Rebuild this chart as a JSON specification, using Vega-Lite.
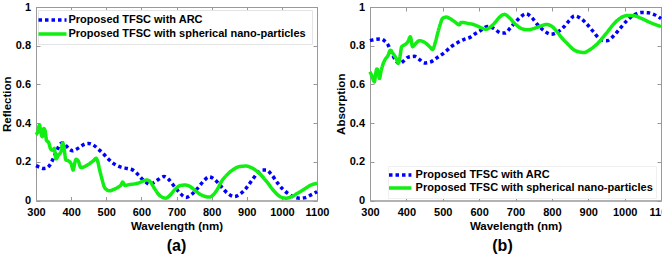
{
  "$schema": "https://vega.github.io/schema/vega-lite/v6.json",
  "background": "white",
  "padding": {"left": 0, "top": 0, "right": 0, "bottom": 0},
  "config": {
    "font": "Liberation Sans",
    "view": {"stroke": "#999", "strokeWidth": 1},
    "axis": {"labelFont": "Liberation Sans", "labelFontWeight": "bold", "labelFontSize": 11, "labelColor": "#000", "titleFont": "Liberation Sans", "titleFontWeight": "bold", "titleFontSize": 11.5, "titleColor": "#000", "domainColor": "#999", "tickColor": "#999", "tickSize": -4, "labelPadding": 9.5, "grid": false, "labelFlush": false, "labelOverlap": false},
    "title": {"font": "Liberation Sans", "fontSize": 16, "fontWeight": "bold", "color": "#000", "orient": "bottom", "anchor": "middle", "offset": 6}
  },
  "resolve": {"scale": {"color": "independent", "strokeDash": "independent"}, "legend": {"color": "independent", "strokeDash": "independent"}},
  "datasets": {
    "refl": [
      {"wavelength": 300, "value": 0.18, "series": "Proposed TFSC with ARC"},
      {"wavelength": 310, "value": 0.172, "series": "Proposed TFSC with ARC"},
      {"wavelength": 320, "value": 0.166, "series": "Proposed TFSC with ARC"},
      {"wavelength": 330, "value": 0.168, "series": "Proposed TFSC with ARC"},
      {"wavelength": 340, "value": 0.185, "series": "Proposed TFSC with ARC"},
      {"wavelength": 350, "value": 0.22, "series": "Proposed TFSC with ARC"},
      {"wavelength": 360, "value": 0.262, "series": "Proposed TFSC with ARC"},
      {"wavelength": 370, "value": 0.293, "series": "Proposed TFSC with ARC"},
      {"wavelength": 378, "value": 0.298, "series": "Proposed TFSC with ARC"},
      {"wavelength": 385, "value": 0.285, "series": "Proposed TFSC with ARC"},
      {"wavelength": 395, "value": 0.265, "series": "Proposed TFSC with ARC"},
      {"wavelength": 405, "value": 0.257, "series": "Proposed TFSC with ARC"},
      {"wavelength": 415, "value": 0.265, "series": "Proposed TFSC with ARC"},
      {"wavelength": 428, "value": 0.28, "series": "Proposed TFSC with ARC"},
      {"wavelength": 440, "value": 0.293, "series": "Proposed TFSC with ARC"},
      {"wavelength": 450, "value": 0.295, "series": "Proposed TFSC with ARC"},
      {"wavelength": 462, "value": 0.288, "series": "Proposed TFSC with ARC"},
      {"wavelength": 476, "value": 0.268, "series": "Proposed TFSC with ARC"},
      {"wavelength": 490, "value": 0.245, "series": "Proposed TFSC with ARC"},
      {"wavelength": 504, "value": 0.218, "series": "Proposed TFSC with ARC"},
      {"wavelength": 520, "value": 0.192, "series": "Proposed TFSC with ARC"},
      {"wavelength": 542, "value": 0.172, "series": "Proposed TFSC with ARC"},
      {"wavelength": 560, "value": 0.165, "series": "Proposed TFSC with ARC"},
      {"wavelength": 575, "value": 0.158, "series": "Proposed TFSC with ARC"},
      {"wavelength": 590, "value": 0.135, "series": "Proposed TFSC with ARC"},
      {"wavelength": 600, "value": 0.115, "series": "Proposed TFSC with ARC"},
      {"wavelength": 612, "value": 0.096, "series": "Proposed TFSC with ARC"},
      {"wavelength": 623, "value": 0.084, "series": "Proposed TFSC with ARC"},
      {"wavelength": 635, "value": 0.092, "series": "Proposed TFSC with ARC"},
      {"wavelength": 648, "value": 0.108, "series": "Proposed TFSC with ARC"},
      {"wavelength": 665, "value": 0.124, "series": "Proposed TFSC with ARC"},
      {"wavelength": 680, "value": 0.105, "series": "Proposed TFSC with ARC"},
      {"wavelength": 694, "value": 0.072, "series": "Proposed TFSC with ARC"},
      {"wavelength": 710, "value": 0.038, "series": "Proposed TFSC with ARC"},
      {"wavelength": 727, "value": 0.016, "series": "Proposed TFSC with ARC"},
      {"wavelength": 742, "value": 0.03, "series": "Proposed TFSC with ARC"},
      {"wavelength": 760, "value": 0.063, "series": "Proposed TFSC with ARC"},
      {"wavelength": 777, "value": 0.1, "series": "Proposed TFSC with ARC"},
      {"wavelength": 793, "value": 0.122, "series": "Proposed TFSC with ARC"},
      {"wavelength": 808, "value": 0.11, "series": "Proposed TFSC with ARC"},
      {"wavelength": 827, "value": 0.072, "series": "Proposed TFSC with ARC"},
      {"wavelength": 845, "value": 0.038, "series": "Proposed TFSC with ARC"},
      {"wavelength": 865, "value": 0.02, "series": "Proposed TFSC with ARC"},
      {"wavelength": 880, "value": 0.032, "series": "Proposed TFSC with ARC"},
      {"wavelength": 898, "value": 0.063, "series": "Proposed TFSC with ARC"},
      {"wavelength": 915, "value": 0.105, "series": "Proposed TFSC with ARC"},
      {"wavelength": 930, "value": 0.14, "series": "Proposed TFSC with ARC"},
      {"wavelength": 945, "value": 0.158, "series": "Proposed TFSC with ARC"},
      {"wavelength": 955, "value": 0.158, "series": "Proposed TFSC with ARC"},
      {"wavelength": 970, "value": 0.135, "series": "Proposed TFSC with ARC"},
      {"wavelength": 988, "value": 0.09, "series": "Proposed TFSC with ARC"},
      {"wavelength": 1002, "value": 0.06, "series": "Proposed TFSC with ARC"},
      {"wavelength": 1016, "value": 0.038, "series": "Proposed TFSC with ARC"},
      {"wavelength": 1032, "value": 0.02, "series": "Proposed TFSC with ARC"},
      {"wavelength": 1050, "value": 0.012, "series": "Proposed TFSC with ARC"},
      {"wavelength": 1067, "value": 0.015, "series": "Proposed TFSC with ARC"},
      {"wavelength": 1083, "value": 0.029, "series": "Proposed TFSC with ARC"},
      {"wavelength": 1100, "value": 0.046, "series": "Proposed TFSC with ARC"},
      {"wavelength": 300, "value": 0.34, "series": "Proposed TFSC with  spherical nano-particles"},
      {"wavelength": 305, "value": 0.355, "series": "Proposed TFSC with  spherical nano-particles"},
      {"wavelength": 310, "value": 0.39, "series": "Proposed TFSC with  spherical nano-particles"},
      {"wavelength": 314, "value": 0.35, "series": "Proposed TFSC with  spherical nano-particles"},
      {"wavelength": 318, "value": 0.33, "series": "Proposed TFSC with  spherical nano-particles"},
      {"wavelength": 322, "value": 0.372, "series": "Proposed TFSC with  spherical nano-particles"},
      {"wavelength": 326, "value": 0.36, "series": "Proposed TFSC with  spherical nano-particles"},
      {"wavelength": 330, "value": 0.31, "series": "Proposed TFSC with  spherical nano-particles"},
      {"wavelength": 336, "value": 0.3, "series": "Proposed TFSC with  spherical nano-particles"},
      {"wavelength": 342, "value": 0.265, "series": "Proposed TFSC with  spherical nano-particles"},
      {"wavelength": 348, "value": 0.26, "series": "Proposed TFSC with  spherical nano-particles"},
      {"wavelength": 352, "value": 0.27, "series": "Proposed TFSC with  spherical nano-particles"},
      {"wavelength": 357, "value": 0.215, "series": "Proposed TFSC with  spherical nano-particles"},
      {"wavelength": 364, "value": 0.235, "series": "Proposed TFSC with  spherical nano-particles"},
      {"wavelength": 371, "value": 0.252, "series": "Proposed TFSC with  spherical nano-particles"},
      {"wavelength": 376, "value": 0.298, "series": "Proposed TFSC with  spherical nano-particles"},
      {"wavelength": 380, "value": 0.27, "series": "Proposed TFSC with  spherical nano-particles"},
      {"wavelength": 385, "value": 0.21, "series": "Proposed TFSC with  spherical nano-particles"},
      {"wavelength": 392, "value": 0.205, "series": "Proposed TFSC with  spherical nano-particles"},
      {"wavelength": 400, "value": 0.19, "series": "Proposed TFSC with  spherical nano-particles"},
      {"wavelength": 406, "value": 0.157, "series": "Proposed TFSC with  spherical nano-particles"},
      {"wavelength": 410, "value": 0.19, "series": "Proposed TFSC with  spherical nano-particles"},
      {"wavelength": 414, "value": 0.213, "series": "Proposed TFSC with  spherical nano-particles"},
      {"wavelength": 420, "value": 0.205, "series": "Proposed TFSC with  spherical nano-particles"},
      {"wavelength": 428, "value": 0.17, "series": "Proposed TFSC with  spherical nano-particles"},
      {"wavelength": 438, "value": 0.175, "series": "Proposed TFSC with  spherical nano-particles"},
      {"wavelength": 452, "value": 0.19, "series": "Proposed TFSC with  spherical nano-particles"},
      {"wavelength": 463, "value": 0.205, "series": "Proposed TFSC with  spherical nano-particles"},
      {"wavelength": 471, "value": 0.218, "series": "Proposed TFSC with  spherical nano-particles"},
      {"wavelength": 476, "value": 0.2, "series": "Proposed TFSC with  spherical nano-particles"},
      {"wavelength": 481, "value": 0.16, "series": "Proposed TFSC with  spherical nano-particles"},
      {"wavelength": 488, "value": 0.11, "series": "Proposed TFSC with  spherical nano-particles"},
      {"wavelength": 494, "value": 0.072, "series": "Proposed TFSC with  spherical nano-particles"},
      {"wavelength": 502, "value": 0.055, "series": "Proposed TFSC with  spherical nano-particles"},
      {"wavelength": 509, "value": 0.05, "series": "Proposed TFSC with  spherical nano-particles"},
      {"wavelength": 520, "value": 0.056, "series": "Proposed TFSC with  spherical nano-particles"},
      {"wavelength": 532, "value": 0.067, "series": "Proposed TFSC with  spherical nano-particles"},
      {"wavelength": 542, "value": 0.08, "series": "Proposed TFSC with  spherical nano-particles"},
      {"wavelength": 547, "value": 0.095, "series": "Proposed TFSC with  spherical nano-particles"},
      {"wavelength": 553, "value": 0.078, "series": "Proposed TFSC with  spherical nano-particles"},
      {"wavelength": 565, "value": 0.082, "series": "Proposed TFSC with  spherical nano-particles"},
      {"wavelength": 589, "value": 0.089, "series": "Proposed TFSC with  spherical nano-particles"},
      {"wavelength": 605, "value": 0.1, "series": "Proposed TFSC with  spherical nano-particles"},
      {"wavelength": 616, "value": 0.106, "series": "Proposed TFSC with  spherical nano-particles"},
      {"wavelength": 626, "value": 0.095, "series": "Proposed TFSC with  spherical nano-particles"},
      {"wavelength": 637, "value": 0.063, "series": "Proposed TFSC with  spherical nano-particles"},
      {"wavelength": 650, "value": 0.03, "series": "Proposed TFSC with  spherical nano-particles"},
      {"wavelength": 662, "value": 0.015, "series": "Proposed TFSC with  spherical nano-particles"},
      {"wavelength": 670, "value": 0.012, "series": "Proposed TFSC with  spherical nano-particles"},
      {"wavelength": 680, "value": 0.025, "series": "Proposed TFSC with  spherical nano-particles"},
      {"wavelength": 699, "value": 0.063, "series": "Proposed TFSC with  spherical nano-particles"},
      {"wavelength": 712, "value": 0.078, "series": "Proposed TFSC with  spherical nano-particles"},
      {"wavelength": 725, "value": 0.08, "series": "Proposed TFSC with  spherical nano-particles"},
      {"wavelength": 738, "value": 0.073, "series": "Proposed TFSC with  spherical nano-particles"},
      {"wavelength": 751, "value": 0.055, "series": "Proposed TFSC with  spherical nano-particles"},
      {"wavelength": 765, "value": 0.035, "series": "Proposed TFSC with  spherical nano-particles"},
      {"wavelength": 780, "value": 0.022, "series": "Proposed TFSC with  spherical nano-particles"},
      {"wavelength": 793, "value": 0.018, "series": "Proposed TFSC with  spherical nano-particles"},
      {"wavelength": 805, "value": 0.03, "series": "Proposed TFSC with  spherical nano-particles"},
      {"wavelength": 817, "value": 0.06, "series": "Proposed TFSC with  spherical nano-particles"},
      {"wavelength": 827, "value": 0.095, "series": "Proposed TFSC with  spherical nano-particles"},
      {"wavelength": 845, "value": 0.135, "series": "Proposed TFSC with  spherical nano-particles"},
      {"wavelength": 860, "value": 0.158, "series": "Proposed TFSC with  spherical nano-particles"},
      {"wavelength": 878, "value": 0.175, "series": "Proposed TFSC with  spherical nano-particles"},
      {"wavelength": 898, "value": 0.178, "series": "Proposed TFSC with  spherical nano-particles"},
      {"wavelength": 918, "value": 0.165, "series": "Proposed TFSC with  spherical nano-particles"},
      {"wavelength": 936, "value": 0.14, "series": "Proposed TFSC with  spherical nano-particles"},
      {"wavelength": 958, "value": 0.095, "series": "Proposed TFSC with  spherical nano-particles"},
      {"wavelength": 979, "value": 0.046, "series": "Proposed TFSC with  spherical nano-particles"},
      {"wavelength": 995, "value": 0.02, "series": "Proposed TFSC with  spherical nano-particles"},
      {"wavelength": 1012, "value": 0.012, "series": "Proposed TFSC with  spherical nano-particles"},
      {"wavelength": 1028, "value": 0.02, "series": "Proposed TFSC with  spherical nano-particles"},
      {"wavelength": 1045, "value": 0.038, "series": "Proposed TFSC with  spherical nano-particles"},
      {"wavelength": 1065, "value": 0.06, "series": "Proposed TFSC with  spherical nano-particles"},
      {"wavelength": 1083, "value": 0.08, "series": "Proposed TFSC with  spherical nano-particles"},
      {"wavelength": 1100, "value": 0.089, "series": "Proposed TFSC with  spherical nano-particles"}
    ],
    "abs": [
      {"wavelength": 300, "value": 0.826, "series": "Proposed TFSC with ARC"},
      {"wavelength": 315, "value": 0.833, "series": "Proposed TFSC with ARC"},
      {"wavelength": 330, "value": 0.835, "series": "Proposed TFSC with ARC"},
      {"wavelength": 340, "value": 0.825, "series": "Proposed TFSC with ARC"},
      {"wavelength": 348, "value": 0.81, "series": "Proposed TFSC with ARC"},
      {"wavelength": 358, "value": 0.77, "series": "Proposed TFSC with ARC"},
      {"wavelength": 367, "value": 0.735, "series": "Proposed TFSC with ARC"},
      {"wavelength": 381, "value": 0.708, "series": "Proposed TFSC with ARC"},
      {"wavelength": 392, "value": 0.72, "series": "Proposed TFSC with ARC"},
      {"wavelength": 404, "value": 0.74, "series": "Proposed TFSC with ARC"},
      {"wavelength": 422, "value": 0.745, "series": "Proposed TFSC with ARC"},
      {"wavelength": 435, "value": 0.73, "series": "Proposed TFSC with ARC"},
      {"wavelength": 449, "value": 0.711, "series": "Proposed TFSC with ARC"},
      {"wavelength": 465, "value": 0.715, "series": "Proposed TFSC with ARC"},
      {"wavelength": 486, "value": 0.74, "series": "Proposed TFSC with ARC"},
      {"wavelength": 505, "value": 0.765, "series": "Proposed TFSC with ARC"},
      {"wavelength": 523, "value": 0.795, "series": "Proposed TFSC with ARC"},
      {"wavelength": 540, "value": 0.815, "series": "Proposed TFSC with ARC"},
      {"wavelength": 559, "value": 0.833, "series": "Proposed TFSC with ARC"},
      {"wavelength": 575, "value": 0.843, "series": "Proposed TFSC with ARC"},
      {"wavelength": 587, "value": 0.859, "series": "Proposed TFSC with ARC"},
      {"wavelength": 605, "value": 0.88, "series": "Proposed TFSC with ARC"},
      {"wavelength": 624, "value": 0.899, "series": "Proposed TFSC with ARC"},
      {"wavelength": 640, "value": 0.89, "series": "Proposed TFSC with ARC"},
      {"wavelength": 660, "value": 0.866, "series": "Proposed TFSC with ARC"},
      {"wavelength": 672, "value": 0.866, "series": "Proposed TFSC with ARC"},
      {"wavelength": 685, "value": 0.89, "series": "Proposed TFSC with ARC"},
      {"wavelength": 697, "value": 0.916, "series": "Proposed TFSC with ARC"},
      {"wavelength": 712, "value": 0.945, "series": "Proposed TFSC with ARC"},
      {"wavelength": 729, "value": 0.965, "series": "Proposed TFSC with ARC"},
      {"wavelength": 745, "value": 0.945, "series": "Proposed TFSC with ARC"},
      {"wavelength": 761, "value": 0.908, "series": "Proposed TFSC with ARC"},
      {"wavelength": 780, "value": 0.875, "series": "Proposed TFSC with ARC"},
      {"wavelength": 798, "value": 0.859, "series": "Proposed TFSC with ARC"},
      {"wavelength": 815, "value": 0.87, "series": "Proposed TFSC with ARC"},
      {"wavelength": 834, "value": 0.899, "series": "Proposed TFSC with ARC"},
      {"wavelength": 848, "value": 0.93, "series": "Proposed TFSC with ARC"},
      {"wavelength": 862, "value": 0.954, "series": "Proposed TFSC with ARC"},
      {"wavelength": 880, "value": 0.94, "series": "Proposed TFSC with ARC"},
      {"wavelength": 898, "value": 0.908, "series": "Proposed TFSC with ARC"},
      {"wavelength": 915, "value": 0.87, "series": "Proposed TFSC with ARC"},
      {"wavelength": 935, "value": 0.83, "series": "Proposed TFSC with ARC"},
      {"wavelength": 950, "value": 0.825, "series": "Proposed TFSC with ARC"},
      {"wavelength": 972, "value": 0.855, "series": "Proposed TFSC with ARC"},
      {"wavelength": 990, "value": 0.895, "series": "Proposed TFSC with ARC"},
      {"wavelength": 1008, "value": 0.933, "series": "Proposed TFSC with ARC"},
      {"wavelength": 1025, "value": 0.958, "series": "Proposed TFSC with ARC"},
      {"wavelength": 1045, "value": 0.972, "series": "Proposed TFSC with ARC"},
      {"wavelength": 1065, "value": 0.97, "series": "Proposed TFSC with ARC"},
      {"wavelength": 1082, "value": 0.96, "series": "Proposed TFSC with ARC"},
      {"wavelength": 1100, "value": 0.94, "series": "Proposed TFSC with ARC"},
      {"wavelength": 300, "value": 0.665, "series": "Proposed TFSC with spherical nano-particles"},
      {"wavelength": 306, "value": 0.64, "series": "Proposed TFSC with spherical nano-particles"},
      {"wavelength": 312, "value": 0.613, "series": "Proposed TFSC with spherical nano-particles"},
      {"wavelength": 316, "value": 0.66, "series": "Proposed TFSC with spherical nano-particles"},
      {"wavelength": 319, "value": 0.68, "series": "Proposed TFSC with spherical nano-particles"},
      {"wavelength": 323, "value": 0.66, "series": "Proposed TFSC with spherical nano-particles"},
      {"wavelength": 326, "value": 0.63, "series": "Proposed TFSC with spherical nano-particles"},
      {"wavelength": 330, "value": 0.665, "series": "Proposed TFSC with spherical nano-particles"},
      {"wavelength": 335, "value": 0.7, "series": "Proposed TFSC with spherical nano-particles"},
      {"wavelength": 342, "value": 0.73, "series": "Proposed TFSC with spherical nano-particles"},
      {"wavelength": 349, "value": 0.747, "series": "Proposed TFSC with spherical nano-particles"},
      {"wavelength": 356, "value": 0.777, "series": "Proposed TFSC with spherical nano-particles"},
      {"wavelength": 361, "value": 0.765, "series": "Proposed TFSC with spherical nano-particles"},
      {"wavelength": 367, "value": 0.75, "series": "Proposed TFSC with spherical nano-particles"},
      {"wavelength": 373, "value": 0.73, "series": "Proposed TFSC with spherical nano-particles"},
      {"wavelength": 378, "value": 0.708, "series": "Proposed TFSC with spherical nano-particles"},
      {"wavelength": 383, "value": 0.75, "series": "Proposed TFSC with spherical nano-particles"},
      {"wavelength": 387, "value": 0.795, "series": "Proposed TFSC with spherical nano-particles"},
      {"wavelength": 396, "value": 0.805, "series": "Proposed TFSC with spherical nano-particles"},
      {"wavelength": 404, "value": 0.82, "series": "Proposed TFSC with spherical nano-particles"},
      {"wavelength": 411, "value": 0.846, "series": "Proposed TFSC with spherical nano-particles"},
      {"wavelength": 417, "value": 0.795, "series": "Proposed TFSC with spherical nano-particles"},
      {"wavelength": 425, "value": 0.81, "series": "Proposed TFSC with spherical nano-particles"},
      {"wavelength": 436, "value": 0.826, "series": "Proposed TFSC with spherical nano-particles"},
      {"wavelength": 445, "value": 0.822, "series": "Proposed TFSC with spherical nano-particles"},
      {"wavelength": 454, "value": 0.812, "series": "Proposed TFSC with spherical nano-particles"},
      {"wavelength": 464, "value": 0.795, "series": "Proposed TFSC with spherical nano-particles"},
      {"wavelength": 472, "value": 0.781, "series": "Proposed TFSC with spherical nano-particles"},
      {"wavelength": 480, "value": 0.82, "series": "Proposed TFSC with spherical nano-particles"},
      {"wavelength": 486, "value": 0.864, "series": "Proposed TFSC with spherical nano-particles"},
      {"wavelength": 493, "value": 0.91, "series": "Proposed TFSC with spherical nano-particles"},
      {"wavelength": 500, "value": 0.942, "series": "Proposed TFSC with spherical nano-particles"},
      {"wavelength": 510, "value": 0.948, "series": "Proposed TFSC with spherical nano-particles"},
      {"wavelength": 518, "value": 0.942, "series": "Proposed TFSC with spherical nano-particles"},
      {"wavelength": 532, "value": 0.925, "series": "Proposed TFSC with spherical nano-particles"},
      {"wavelength": 546, "value": 0.908, "series": "Proposed TFSC with spherical nano-particles"},
      {"wavelength": 550, "value": 0.92, "series": "Proposed TFSC with spherical nano-particles"},
      {"wavelength": 555, "value": 0.92, "series": "Proposed TFSC with spherical nano-particles"},
      {"wavelength": 570, "value": 0.915, "series": "Proposed TFSC with spherical nano-particles"},
      {"wavelength": 587, "value": 0.908, "series": "Proposed TFSC with spherical nano-particles"},
      {"wavelength": 603, "value": 0.895, "series": "Proposed TFSC with spherical nano-particles"},
      {"wavelength": 619, "value": 0.885, "series": "Proposed TFSC with spherical nano-particles"},
      {"wavelength": 630, "value": 0.895, "series": "Proposed TFSC with spherical nano-particles"},
      {"wavelength": 642, "value": 0.916, "series": "Proposed TFSC with spherical nano-particles"},
      {"wavelength": 655, "value": 0.945, "series": "Proposed TFSC with spherical nano-particles"},
      {"wavelength": 669, "value": 0.962, "series": "Proposed TFSC with spherical nano-particles"},
      {"wavelength": 683, "value": 0.945, "series": "Proposed TFSC with spherical nano-particles"},
      {"wavelength": 697, "value": 0.916, "series": "Proposed TFSC with spherical nano-particles"},
      {"wavelength": 715, "value": 0.89, "series": "Proposed TFSC with spherical nano-particles"},
      {"wavelength": 734, "value": 0.882, "series": "Proposed TFSC with spherical nano-particles"},
      {"wavelength": 752, "value": 0.89, "series": "Proposed TFSC with spherical nano-particles"},
      {"wavelength": 770, "value": 0.902, "series": "Proposed TFSC with spherical nano-particles"},
      {"wavelength": 785, "value": 0.91, "series": "Proposed TFSC with spherical nano-particles"},
      {"wavelength": 800, "value": 0.9, "series": "Proposed TFSC with spherical nano-particles"},
      {"wavelength": 815, "value": 0.87, "series": "Proposed TFSC with spherical nano-particles"},
      {"wavelength": 825, "value": 0.846, "series": "Proposed TFSC with spherical nano-particles"},
      {"wavelength": 843, "value": 0.81, "series": "Proposed TFSC with spherical nano-particles"},
      {"wavelength": 862, "value": 0.777, "series": "Proposed TFSC with spherical nano-particles"},
      {"wavelength": 875, "value": 0.768, "series": "Proposed TFSC with spherical nano-particles"},
      {"wavelength": 889, "value": 0.765, "series": "Proposed TFSC with spherical nano-particles"},
      {"wavelength": 905, "value": 0.78, "series": "Proposed TFSC with spherical nano-particles"},
      {"wavelength": 926, "value": 0.812, "series": "Proposed TFSC with spherical nano-particles"},
      {"wavelength": 950, "value": 0.865, "series": "Proposed TFSC with spherical nano-particles"},
      {"wavelength": 972, "value": 0.916, "series": "Proposed TFSC with spherical nano-particles"},
      {"wavelength": 990, "value": 0.945, "series": "Proposed TFSC with spherical nano-particles"},
      {"wavelength": 1008, "value": 0.956, "series": "Proposed TFSC with spherical nano-particles"},
      {"wavelength": 1025, "value": 0.955, "series": "Proposed TFSC with spherical nano-particles"},
      {"wavelength": 1045, "value": 0.942, "series": "Proposed TFSC with spherical nano-particles"},
      {"wavelength": 1070, "value": 0.92, "series": "Proposed TFSC with spherical nano-particles"},
      {"wavelength": 1100, "value": 0.899, "series": "Proposed TFSC with spherical nano-particles"}
    ]
  },
  "bounds": "flush",
  "spacing": 53,
  "hconcat": [
    {
      "width": 281,
      "height": 193.5,
      "title": {"text": "(a)"},
      "data": {"name": "refl"},
      "resolve": {"axis": {"x": "independent", "y": "independent"}},
      "layer": [
        {
          "mark": {"type": "line", "strokeWidth": 3.5, "interpolate": "monotone", "strokeCap": "butt"},
          "encoding": {
            "x": {"field": "wavelength", "type": "quantitative", "scale": {"domain": [300, 1100], "nice": false, "zero": false}, "axis": {"values": [300, 400, 500, 600, 700, 800, 900, 1000, 1100], "format": "d", "title": "Wavelength (nm)", "titlePadding": 3}},
            "y": {"field": "value", "type": "quantitative", "scale": {"domain": [0, 1], "nice": false}, "axis": {"values": [0, 0.2, 0.4, 0.6, 0.8, 1], "labelExpr": "format(datum.value, '~g')", "title": "Reflection", "titlePadding": 3}},
            "color": {"field": "series", "type": "nominal", "scale": {"domain": ["Proposed TFSC with ARC", "Proposed TFSC with  spherical nano-particles"], "range": ["#0000ff", "#11ee11"]},
              "legend": {"title": null, "orient": "none", "legendX": 2, "legendY": 3, "symbolType": "M-2.8,0H2.8", "symbolSize": 100, "symbolStrokeWidth": 3.5, "symbolOffset": 4.5, "labelOffset": 9, "labelFont": "Liberation Sans", "labelFontSize": 11, "labelFontWeight": "bold", "labelColor": "#000", "labelLimit": 400, "rowPadding": -1.5, "padding": 3, "strokeColor": "#e4e4e4", "fillColor": "white"}},
            "strokeDash": {"field": "series", "type": "nominal", "scale": {"domain": ["Proposed TFSC with ARC", "Proposed TFSC with  spherical nano-particles"], "range": [[3.5, 3], [1, 0]]},
              "legend": {"title": null, "orient": "none", "legendX": 2, "legendY": 3, "symbolType": "M-2.8,0H2.8", "symbolSize": 100, "symbolStrokeWidth": 3.5, "symbolOffset": 4.5, "labelOffset": 9, "labelFont": "Liberation Sans", "labelFontSize": 11, "labelFontWeight": "bold", "labelColor": "#000", "labelLimit": 400, "rowPadding": -1.5, "padding": 3, "strokeColor": "#e4e4e4", "fillColor": "white"}}
          }
        },
        {
          "mark": {"type": "line", "strokeOpacity": 0, "interpolate": "monotone"},
          "encoding": {
            "x": {"field": "wavelength", "type": "quantitative", "axis": {"orient": "top", "values": [300, 400, 500, 600, 700, 800, 900, 1000, 1100], "labels": false, "title": null}},
            "y": {"field": "value", "type": "quantitative", "axis": {"orient": "right", "values": [0, 0.2, 0.4, 0.6, 0.8, 1], "labels": false, "title": null}},
            "detail": {"field": "series"}
          }
        }
      ]
    },
    {
      "width": 291,
      "height": 193.5,
      "title": {"text": "(b)", "dx": -13},
      "data": {"name": "abs"},
      "resolve": {"axis": {"x": "independent", "y": "independent"}},
      "layer": [
        {
          "mark": {"type": "line", "strokeWidth": 3.5, "interpolate": "monotone", "strokeCap": "butt"},
          "encoding": {
            "x": {"field": "wavelength", "type": "quantitative", "scale": {"domain": [300, 1100], "nice": false, "zero": false}, "axis": {"values": [300, 400, 500, 600, 700, 800, 900, 1000, 1100], "format": "d", "title": "Wavelength (nm)", "titlePadding": 3}},
            "y": {"field": "value", "type": "quantitative", "scale": {"domain": [0, 1], "nice": false}, "axis": {"values": [0, 0.2, 0.4, 0.6, 0.8, 1], "labelExpr": "format(datum.value, '~g')", "title": "Absorption", "titlePadding": 3}},
            "color": {"field": "series", "type": "nominal", "scale": {"domain": ["Proposed TFSC with ARC", "Proposed TFSC with spherical nano-particles"], "range": ["#0000ff", "#11ee11"]},
              "legend": {"title": null, "orient": "none", "legendX": 18, "legendY": 159, "symbolType": "M-2.8,0H2.8", "symbolSize": 64, "symbolStrokeWidth": 3.5, "symbolOffset": 3.2, "labelOffset": 9.4, "labelFont": "Liberation Sans", "labelFontSize": 11, "labelFontWeight": "bold", "labelColor": "#000", "labelLimit": 400, "rowPadding": -2, "padding": 3, "strokeColor": "#f0f0f0", "fillColor": "white"}},
            "strokeDash": {"field": "series", "type": "nominal", "scale": {"domain": ["Proposed TFSC with ARC", "Proposed TFSC with spherical nano-particles"], "range": [[3.5, 3], [1, 0]]},
              "legend": {"title": null, "orient": "none", "legendX": 18, "legendY": 159, "symbolType": "M-2.8,0H2.8", "symbolSize": 64, "symbolStrokeWidth": 3.5, "symbolOffset": 3.2, "labelOffset": 9.4, "labelFont": "Liberation Sans", "labelFontSize": 11, "labelFontWeight": "bold", "labelColor": "#000", "labelLimit": 400, "rowPadding": -2, "padding": 3, "strokeColor": "#f0f0f0", "fillColor": "white"}}
          }
        },
        {
          "mark": {"type": "line", "strokeOpacity": 0, "interpolate": "monotone"},
          "encoding": {
            "x": {"field": "wavelength", "type": "quantitative", "axis": {"orient": "top", "values": [300, 400, 500, 600, 700, 800, 900, 1000, 1100], "labels": false, "title": null}},
            "y": {"field": "value", "type": "quantitative", "axis": {"orient": "right", "values": [0, 0.2, 0.4, 0.6, 0.8, 1], "labels": false, "title": null}},
            "detail": {"field": "series"}
          }
        }
      ]
    }
  ]
}
